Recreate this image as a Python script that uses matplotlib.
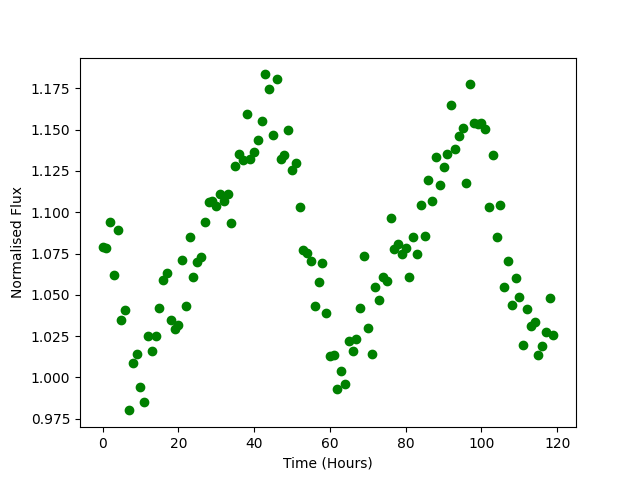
import matplotlib
matplotlib.use("Agg")
import matplotlib.pyplot as plt
import numpy as np

time_hours = np.arange(120)
flux = [
    1.079, 1.0785, 1.094, 1.062, 1.089, 1.035, 1.041, 0.980, 1.009, 1.014,
    0.994, 0.985, 1.025, 1.016, 1.025, 1.042, 1.059, 1.063, 1.035, 1.029,
    1.032, 1.071, 1.043, 1.085, 1.061, 1.070, 1.073, 1.094, 1.1065, 1.107,
    1.104, 1.1108, 1.107, 1.1112, 1.0932, 1.1281, 1.135, 1.1314, 1.1597, 1.1324,
    1.1368, 1.1435, 1.1554, 1.1835, 1.1748, 1.1471, 1.181, 1.1324, 1.1348, 1.1501,
    1.1257, 1.130, 1.1029, 1.0774, 1.0752, 1.0706, 1.0433, 1.058, 1.0695, 1.039,
    1.013, 1.0138, 0.993, 1.004, 0.996, 1.022, 1.016, 1.0233, 1.042, 1.0736,
    1.030, 1.0142, 1.0548, 1.0469, 1.0609, 1.0582, 1.0966, 1.078, 1.0805, 1.0748,
    1.0785, 1.0609, 1.0851, 1.0748, 1.1045, 1.0857, 1.1197, 1.1069, 1.1336, 1.1166,
    1.1275, 1.1354, 1.1651, 1.1385, 1.1461, 1.1512, 1.1179, 1.1774, 1.1542, 1.1536,
    1.154, 1.1506, 1.1033, 1.1348, 1.0851, 1.1045, 1.0548, 1.0706, 1.0439, 1.0603,
    1.0488, 1.0197, 1.0415, 1.0312, 1.0336, 1.0136, 1.0191, 1.0275, 1.0482, 1.0257,
]

fig, ax = plt.subplots(figsize=(6.4, 4.8), dpi=100)
ax.plot(time_hours, flux, 'o', color='green')
ax.set_xlabel('Time (Hours)')
ax.set_ylabel('Normalised Flux')
fig.savefig('out.png')
